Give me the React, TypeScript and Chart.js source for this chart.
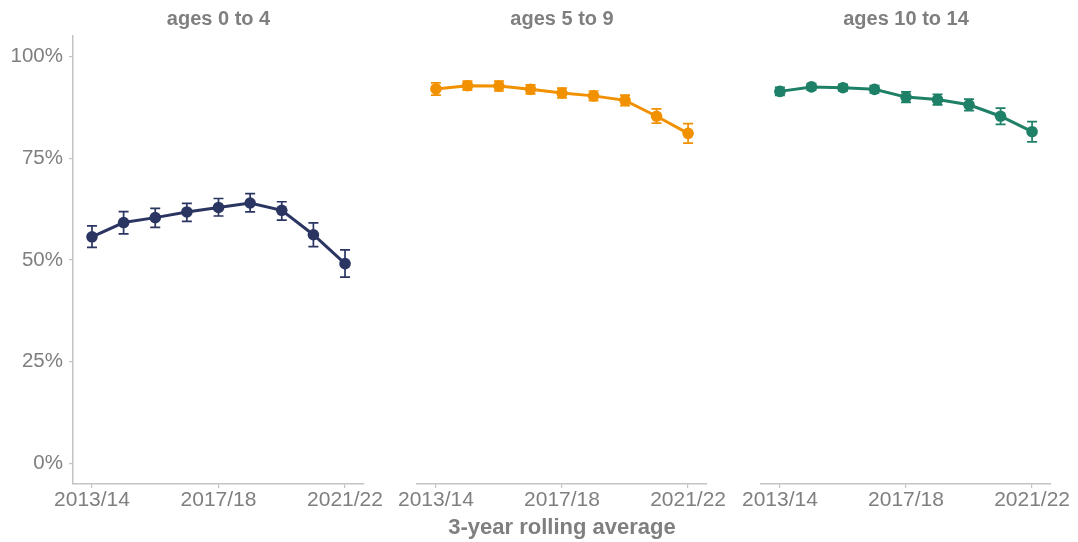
import React, { useEffect, useRef } from "react";
import { Chart, registerables } from "chart.js";

Chart.register(...registerables);

const years = ["2013/14", "2014/15", "2015/16", "2016/17", "2017/18", "2018/19", "2019/20", "2020/21", "2021/22"];
const shownYears = ["2013/14", "2017/18", "2021/22"];
const yTicks = [0, 25, 50, 75, 100];

const age04 = [55.7, 59.2, 60.4, 61.8, 62.9, 64.0, 62.2, 56.2, 49.1];
const age04Lo = [53.1, 56.4, 58.0, 59.5, 60.8, 61.8, 59.8, 53.3, 45.8];
const age04Hi = [58.4, 61.9, 62.7, 63.9, 65.1, 66.3, 64.3, 59.1, 52.5];

const age59 = [92.0, 92.8, 92.7, 91.9, 91.0, 90.3, 89.2, 85.3, 81.1];
const age59Lo = [90.5, 91.7, 91.5, 90.8, 89.8, 89.1, 87.9, 83.6, 78.7];
const age59Hi = [93.5, 93.9, 93.9, 93.0, 92.2, 91.5, 90.5, 87.1, 83.5];

const age1014 = [91.4, 92.5, 92.3, 91.9, 90.0, 89.4, 88.1, 85.3, 81.5];
const age1014Lo = [90.4, 91.7, 91.5, 91.0, 88.7, 88.1, 86.7, 83.3, 79.0];
const age1014Hi = [92.4, 93.3, 93.1, 92.8, 91.3, 90.7, 89.5, 87.3, 84.0];

const panelTitles = ["ages 0 to 4", "ages 5 to 9", "ages 10 to 14"];
const colors = ["#2b3562", "#f29100", "#1f8068"];
const xAxisTitle = "3-year rolling average";

const FONT = "'Liberation Sans', Arial, Helvetica, sans-serif";
const GREY = "#7f7f7f";
const AXIS = "#c4c4c4";

const panels = [
  { title: panelTitles[0], values: age04, lo: age04Lo, hi: age04Hi, color: colors[0], left: 73, right: 1078 - 364, showY: true },
  { title: panelTitles[1], values: age59, lo: age59Lo, hi: age59Hi, color: colors[1], left: 417, right: 1078 - 707, showY: false },
  { title: panelTitles[2], values: age1014, lo: age1014Lo, hi: age1014Hi, color: colors[2], left: 761, right: 1078 - 1051, showY: false },
];

const errorBarPlugin = {
  id: "errorBars",
  beforeDatasetsDraw(chart: any) {
    const opts = chart.options.plugins.errorBars;
    if (!opts) return;
    const { ctx, scales } = chart;
    ctx.save();
    ctx.strokeStyle = opts.color;
    ctx.lineWidth = 1.7;
    opts.lo.forEach((lo: number, i: number) => {
      const x = scales.x.getPixelForValue(i);
      const y1 = scales.y.getPixelForValue(lo);
      const y2 = scales.y.getPixelForValue(opts.hi[i]);
      ctx.beginPath();
      ctx.moveTo(x, y1);
      ctx.lineTo(x, y2);
      ctx.moveTo(x - 5, y1);
      ctx.lineTo(x + 5, y1);
      ctx.moveTo(x - 5, y2);
      ctx.lineTo(x + 5, y2);
      ctx.stroke();
    });
    ctx.restore();
  },
};

const panelTitlePlugin = {
  id: "panelTitle",
  afterDraw(chart: any) {
    const opts = chart.options.plugins.panelTitle;
    if (!opts) return;
    const { ctx, chartArea } = chart;
    ctx.save();
    ctx.font = `bold 20px ${FONT}`;
    ctx.fillStyle = GREY;
    ctx.textAlign = "center";
    ctx.textBaseline = "middle";
    ctx.fillText(opts.text, (chartArea.left + chartArea.right) / 2, 19);
    ctx.restore();
  },
};

function Panel({ p }: { p: any }) {
  const ref = useRef<HTMLCanvasElement>(null);
  useEffect(() => {
    if (!ref.current) return;
    const chart = new Chart(ref.current, {
      type: "line",
      data: {
        datasets: [
          {
            data: p.values.map((v: number, i: number) => ({ x: i, y: v })),
            borderColor: p.color,
            backgroundColor: p.color,
            borderWidth: 3,
            pointRadius: 5.8,
            pointBorderWidth: 0,
            pointBackgroundColor: p.color,
            tension: 0,
          },
        ],
      },
      options: {
        animation: false,
        responsive: false,
        events: [],
        layout: { padding: { left: p.showY ? 0 : p.left, right: p.right, top: 36, bottom: 0 } },
        plugins: {
          legend: { display: false },
          tooltip: { enabled: false },
          errorBars: { lo: p.lo, hi: p.hi, color: p.color },
          panelTitle: { text: p.title },
        } as any,
        scales: {
          x: {
            type: "linear",
            min: -0.6,
            max: 8.6,
            afterBuildTicks: (s: any) => {
              s.ticks = shownYears.map((y) => ({ value: years.indexOf(y) }));
            },
            afterFit: (s: any) => {
              s.height = 58;
            },
            ticks: {
              callback: (v: any) => years[v] ?? "",
              color: GREY,
              font: { family: FONT, size: 21 },
              padding: 0,
              maxRotation: 0,
              autoSkip: false,
            },
            grid: { display: true, drawOnChartArea: false, drawTicks: true, tickLength: 4, color: AXIS, lineWidth: 1.2 },
            border: { display: true, color: AXIS, width: 1.5 },
          },
          y: {
            display: p.showY,
            min: -5,
            max: 105,
            afterBuildTicks: (s: any) => {
              s.ticks = yTicks.map((v) => ({ value: v }));
            },
            afterFit: (s: any) => {
              s.width = p.showY ? 73 : 0;
            },
            ticks: {
              callback: (v: any) => `${v}%`,
              color: GREY,
              font: { family: FONT, size: 20.5 },
              padding: 6,
            },
            grid: { display: true, drawOnChartArea: false, drawTicks: true, tickLength: 4, color: AXIS, lineWidth: 1.2 },
            border: { display: true, color: AXIS, width: 1.5 },
          },
        },
      },
      plugins: [errorBarPlugin, panelTitlePlugin],
    } as any);
    return () => chart.destroy();
  }, [p]);
  return (
    <canvas
      ref={ref}
      width={1078}
      height={542}
      style={{ position: "absolute", left: 0, top: 0, width: 1078, height: 542 }}
    />
  );
}

export default function App() {
  return (
    <div style={{ position: "absolute", left: 0, top: 0, width: 1078, height: 542, background: "#fff", overflow: "hidden" }}>
      {panels.map((p, i) => (
        <Panel key={i} p={p} />
      ))}
      <div
        style={{
          position: "absolute",
          left: 73,
          width: 1051 - 73,
          top: 514,
          textAlign: "center",
          fontFamily: FONT,
          fontWeight: "bold",
          fontSize: 22,
          color: GREY,
          lineHeight: "26px",
        }}
      >
        {xAxisTitle}
      </div>
    </div>
  );
}
